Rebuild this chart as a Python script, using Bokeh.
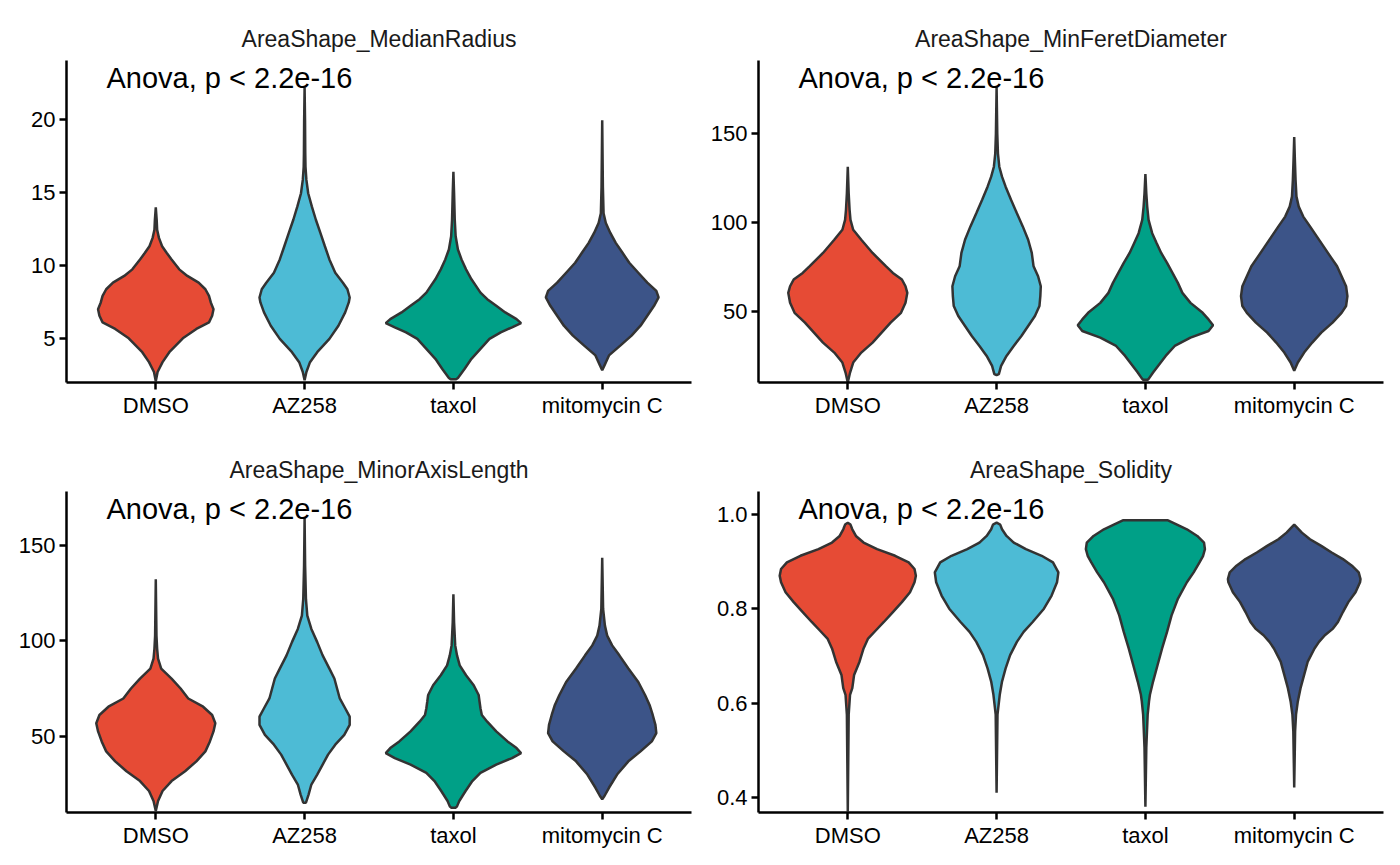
from bokeh.plotting import figure
from bokeh.layouts import gridplot
from bokeh.models import FixedTicker, Label, PrintfTickFormatter, Range1d
from bokeh.embed import file_html
from bokeh.resources import INLINE

CATEGORIES = ["DMSO", "AZ258", "taxol", "mitomycin C"]
COLORS = ["#E64B35", "#4DBBD5", "#00A087", "#3C5488"]
PANEL_TITLES = ["AreaShape_MedianRadius", "AreaShape_MinFeretDiameter",
                "AreaShape_MinorAxisLength", "AreaShape_Solidity"]
ANOVA_TEXT = "Anova, p < 2.2e-16"

# violin profiles: y values and relative density (shared scale across violins)
MR_DMSO_Y = [2.08, 2.72, 3.39, 4.07, 5.02, 5.66, 6.11, 6.56, 7.01, 7.47, 7.92, 8.37, 8.82, 9.28, 9.73, 10.41, 10.86, 11.31, 11.88, 12.44, 13.12, 13.96]
MR_DMSO_D = [0, 4, 15, 30, 60, 90, 118, 125, 128, 122, 118, 110, 95, 70, 52, 35, 24, 14, 7, 3, 2, 0]
MR_AZ258_Y = [2.15, 2.72, 3.39, 4.07, 4.98, 5.88, 6.79, 7.47, 7.81, 8.37, 8.82, 9.50, 10.41, 11.31, 12.22, 13.12, 14.03, 14.93, 15.84, 16.74, 17.65, 19.91, 22.17]
MR_AZ258_D = [0, 4, 12, 28, 55, 75, 90, 98, 100, 95, 85, 68, 55, 45, 35, 25, 16, 8, 4, 2, 1.5, 1, 0]
MR_TAXOL_Y = [2.22, 2.31, 2.94, 3.62, 4.30, 4.98, 5.43, 5.77, 6.06, 6.33, 6.79, 7.24, 7.69, 8.14, 8.60, 9.05, 9.73, 10.41, 11.09, 11.99, 13.12, 14.93, 16.40]
MR_TAXOL_D = [6, 10, 25, 40, 60, 80, 105, 130, 150, 140, 115, 95, 75, 60, 50, 40, 28, 18, 10, 5, 3, 1.5, 0]
MR_MITO_Y = [2.83, 3.17, 3.85, 4.52, 5.20, 5.88, 6.56, 7.24, 7.81, 8.26, 8.82, 9.50, 10.18, 10.86, 11.54, 12.22, 12.90, 13.57, 15.38, 19.91]
MR_MITO_D = [0, 5, 15, 40, 65, 85, 100, 115, 125, 120, 100, 80, 60, 45, 30, 18, 8, 3, 1.5, 0]

MF_DMSO_Y = [10.3, 15.9, 21.5, 27.1, 32.7, 38.3, 43.9, 49.4, 55.0, 60.6, 64.3, 68.1, 71.8, 75.5, 83.0, 90.4, 96.0, 101.6, 107.2, 116.5, 131.4]
MF_DMSO_D = [0, 5, 12, 30, 55, 75, 95, 118, 128, 132, 128, 120, 100, 85, 55, 30, 12, 6, 4, 2, 0]
MF_AZ258_Y = [14.4, 15.0, 19.6, 25.2, 30.8, 36.4, 42.0, 47.6, 53.2, 58.8, 64.3, 69.9, 75.5, 83.0, 90.4, 97.9, 105.3, 112.8, 120.2, 125.8, 131.4, 138.8, 150.0, 176.1]
MF_AZ258_D = [0, 5, 10, 22, 38, 55, 70, 85, 95, 97, 98, 92, 82, 78, 70, 58, 45, 32, 20, 12, 6, 3, 1.5, 0]
MF_TAXOL_Y = [11.8, 12.6, 15.9, 19.6, 25.2, 30.8, 35.5, 39.2, 42.4, 45.7, 49.4, 55.0, 60.6, 66.2, 71.8, 77.4, 83.0, 88.5, 94.1, 101.6, 109.0, 116.5, 127.3]
MF_TAXOL_D = [5, 8, 17, 28, 45, 65, 100, 140, 150, 140, 127, 100, 82, 72, 60, 48, 35, 25, 15, 7, 4, 2, 0]
MF_MITO_Y = [16.9, 21.5, 27.1, 32.7, 38.3, 43.9, 49.4, 53.2, 58.8, 64.3, 69.9, 75.5, 81.1, 86.7, 92.3, 97.9, 103.4, 109.0, 114.6, 123.9, 135.1, 148.1]
MF_MITO_D = [0, 8, 22, 40, 60, 85, 105, 115, 118, 115, 105, 95, 80, 65, 50, 35, 20, 10, 5, 3, 1.5, 0]

MA_DMSO_Y = [11.3, 16.5, 21.7, 26.9, 32.0, 37.2, 42.4, 47.6, 52.8, 57.1, 61.4, 65.7, 70.0, 75.2, 80.4, 85.6, 90.8, 95.9, 102.8, 132.2]
MA_DMSO_D = [0, 5, 15, 35, 65, 90, 110, 120, 128, 132, 125, 105, 72, 55, 35, 12, 5, 3, 1.5, 0]
MA_AZ258_Y = [15.6, 20.0, 25.1, 30.3, 35.5, 40.7, 45.9, 51.0, 56.2, 60.5, 64.9, 70.0, 75.2, 80.4, 85.6, 92.5, 99.4, 106.3, 113.2, 121.8, 139.1, 164.2]
MA_AZ258_D = [3, 9, 15, 28, 40, 52, 68, 88, 100, 100, 90, 78, 72, 66, 55, 40, 28, 15, 6, 3, 1.2, 0]
MA_TAXOL_Y = [13.0, 13.7, 16.5, 21.7, 26.9, 31.2, 35.5, 38.9, 41.5, 44.1, 47.6, 52.8, 57.9, 61.4, 64.9, 68.3, 71.8, 76.9, 82.1, 87.3, 92.5, 97.7, 109.8, 124.4]
MA_TAXOL_D = [5, 8, 13, 27, 42, 60, 95, 130, 150, 140, 120, 95, 75, 63, 60, 58, 56, 45, 28, 14, 8, 4, 1.5, 0]
MA_MITO_Y = [17.4, 19.1, 23.4, 30.3, 37.2, 42.4, 47.6, 51.9, 56.2, 61.4, 66.6, 71.8, 78.6, 85.6, 92.5, 97.7, 102.8, 108.0, 116.7, 143.4]
MA_MITO_D = [0, 5, 15, 33, 58, 85, 110, 120, 118, 112, 105, 95, 80, 58, 38, 22, 11, 6, 2, 0]

SO_DMSO_Y = [0.371, 0.576, 0.618, 0.632, 0.646, 0.660, 0.688, 0.716, 0.737, 0.754, 0.772, 0.793, 0.814, 0.835, 0.856, 0.870, 0.884, 0.898, 0.912, 0.926, 0.940, 0.954, 0.968, 0.978, 0.982]
SO_DMSO_D = [0, 2, 5, 10, 12, 14, 26, 35, 45, 62, 80, 100, 120, 138, 148, 151, 148, 135, 105, 65, 35, 18, 10, 6, 0]
SO_AZ258_Y = [0.411, 0.576, 0.618, 0.646, 0.674, 0.702, 0.730, 0.751, 0.772, 0.800, 0.828, 0.856, 0.877, 0.898, 0.912, 0.926, 0.940, 0.954, 0.968, 0.978, 0.982]
SO_AZ258_D = [0, 2, 7, 12, 20, 30, 45, 60, 80, 105, 122, 134, 137, 125, 100, 65, 38, 22, 12, 8, 0]
SO_TAXOL_Y = [0.381, 0.506, 0.576, 0.604, 0.618, 0.646, 0.681, 0.716, 0.751, 0.786, 0.821, 0.856, 0.877, 0.898, 0.912, 0.926, 0.940, 0.954, 0.968, 0.978, 0.987]
SO_TAXOL_D = [0, 2, 5, 8, 10, 17, 27, 37, 48, 58, 72, 92, 107, 120, 128, 132, 130, 115, 92, 70, 50]
SO_MITO_Y = [0.422, 0.541, 0.576, 0.604, 0.632, 0.660, 0.688, 0.716, 0.730, 0.744, 0.758, 0.772, 0.793, 0.814, 0.835, 0.856, 0.863, 0.877, 0.891, 0.905, 0.919, 0.933, 0.947, 0.961, 0.971, 0.978]
SO_MITO_D = [0, 2, 4, 8, 14, 22, 30, 45, 55, 68, 86, 97, 108, 120, 136, 146, 147, 143, 128, 108, 83, 60, 35, 17, 7, 0]

Y_RANGES = [(2.0, 24.0), (10.3, 191.0), (10.5, 178.0), (0.369, 1.048)]
Y_TICKS = [[5, 10, 15, 20], [50, 100, 150], [50, 100, 150], [0.4, 0.6, 0.8, 1.0]]
Y_FORMATS = ["%d", "%d", "%d", "%.1f"]

PROFILES = [
    [(MR_DMSO_Y, MR_DMSO_D), (MR_AZ258_Y, MR_AZ258_D), (MR_TAXOL_Y, MR_TAXOL_D), (MR_MITO_Y, MR_MITO_D)],
    [(MF_DMSO_Y, MF_DMSO_D), (MF_AZ258_Y, MF_AZ258_D), (MF_TAXOL_Y, MF_TAXOL_D), (MF_MITO_Y, MF_MITO_D)],
    [(MA_DMSO_Y, MA_DMSO_D), (MA_AZ258_Y, MA_AZ258_D), (MA_TAXOL_Y, MA_TAXOL_D), (MA_MITO_Y, MA_MITO_D)],
    [(SO_DMSO_Y, SO_DMSO_D), (SO_AZ258_Y, SO_AZ258_D), (SO_TAXOL_Y, SO_TAXOL_D), (SO_MITO_Y, SO_MITO_D)],
]

DENS_SCALE = 1.0 / 330.0   # shared density -> half-width (category units)
FONT = "Liberation Sans"


def make_panel(idx):
    top = idx < 2
    left_col = idx % 2 == 0
    p = figure(
        frame_width=625, frame_height=322 if top else 321,
        x_range=Range1d(0.4, 4.6), y_range=Range1d(*Y_RANGES[idx]),
        output_backend="svg", toolbar_location=None,
        min_border_left=66 if left_col else 59, min_border_right=8,
        min_border_top=60, min_border_bottom=49 if top else 44,
        title=PANEL_TITLES[idx],
    )
    p.title.align = "center"
    p.title.text_font = FONT
    p.title.text_font_size = "23px"
    p.title.text_font_style = "normal"
    p.title.text_color = "#1a1a1a"
    p.title.standoff = 18 if top else 17

    for i, (ys, ds) in enumerate(PROFILES[idx]):
        c = i + 1
        left = [c - d * DENS_SCALE for d in ds]
        right = [c + d * DENS_SCALE for d in ds]
        xs = left + right[::-1]
        yy = list(ys) + list(ys)[::-1]
        p.patch(xs, yy, fill_color=COLORS[i], line_color="#333333", line_width=2.5)

    p.add_layout(Label(x=0.4, y=Y_RANGES[idx][1], x_offset=40, y_offset=-17,
                       text=ANOVA_TEXT, text_font=FONT, text_font_size="29px",
                       text_color="black", text_baseline="alphabetic", text_align="left"))

    p.xaxis.ticker = FixedTicker(ticks=[1, 2, 3, 4])
    p.xaxis.major_label_overrides = {i + 1: c for i, c in enumerate(CATEGORIES)}
    p.yaxis.ticker = FixedTicker(ticks=Y_TICKS[idx])
    p.yaxis.formatter = PrintfTickFormatter(format=Y_FORMATS[idx])
    for ax in (p.xaxis[0], p.yaxis[0]):
        ax.axis_line_width = 2.5
        ax.axis_line_color = "black"
        ax.major_tick_line_width = 2.5
        ax.major_tick_line_color = "black"
        ax.major_tick_out = 7
        ax.major_tick_in = 0
        ax.minor_tick_line_color = None
        ax.major_label_text_font = FONT
        ax.major_label_text_font_size = "22px"
        ax.major_label_text_color = "black"
        ax.major_label_standoff = 4
    p.xaxis[0].major_label_standoff = 3
    p.xgrid.visible = False
    p.ygrid.visible = False
    p.outline_line_color = None
    p.background_fill_color = "white"
    p.border_fill_color = "white"
    return p


panels = [make_panel(i) for i in range(4)]
grid = gridplot([[panels[0], panels[1]], [panels[2], panels[3]]], toolbar_location=None)

open("out.html", "w").write(file_html(grid, INLINE))
